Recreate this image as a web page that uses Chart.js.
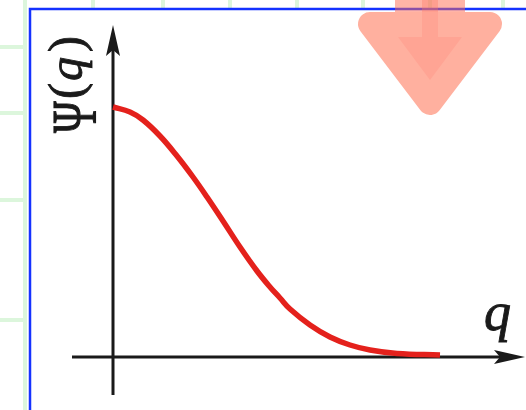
<!DOCTYPE html>
<html>
<head>
<meta charset="utf-8">
<title>Ψ(q)</title>
<script src="https://cdn.jsdelivr.net/npm/chart.js@4.4.0/dist/chart.umd.min.js"></script>
<style>
  html, body { margin: 0; padding: 0; background: #fff; }
  #wrap { width: 526px; height: 410px; }
</style>
</head>
<body>
<div id="wrap"><canvas id="chart-psi" width="526" height="410"></canvas></div>
<script>
// ---- DATA ----
const qVals   = [0, 0.17, 0.30, 0.47, 0.64, 0.80, 0.94, 1.10, 1.27, 1.44, 1.57, 1.67, 1.77, 1.97, 2.17, 2.37, 2.57, 2.84, 3.27];
const psiVals = [1.00, 0.98, 0.948, 0.884, 0.804, 0.72, 0.64, 0.544, 0.44, 0.344, 0.28, 0.236, 0.192, 0.128, 0.08, 0.048, 0.028, 0.014, 0.008];

const xRange = [-0.4, 4.1];
const yRange = [-0.16, 1.34];

const SERIF = '"Liberation Serif", "DejaVu Serif", serif';
const INK = '#1a1a1a';

// ---- PAGE BACKGROUND: faint grid + blue frame ----
const backdrop = {
  id: 'backdrop',
  beforeDraw(chart) {
    const ctx = chart.ctx;
    const W = chart.width, H = chart.height;
    ctx.save();
    ctx.fillStyle = '#ffffff';
    ctx.fillRect(0, 0, W, H);

    ctx.strokeStyle = '#dcf6dc';
    ctx.lineWidth = 4;
    ctx.beginPath();
    ctx.moveTo(25, 0); ctx.lineTo(25, H);
    [47, 113, 200, 320].forEach(y => { ctx.moveTo(0, y); ctx.lineTo(25, y); });
    [93, 163, 230, 297, 363, 430, 503].forEach(x => { ctx.moveTo(x, 0); ctx.lineTo(x, 8); });
    ctx.stroke();

    ctx.strokeStyle = '#1432ff';
    ctx.lineWidth = 2.5;
    ctx.beginPath();
    ctx.moveTo(30, H); ctx.lineTo(30, 9); ctx.lineTo(W, 9);
    ctx.stroke();
    ctx.restore();
  }
};

// text with a light outline so the glyphs read heavier
function inkText(ctx, t, x, y) {
  ctx.fillText(t, x, y);
  ctx.strokeText(t, x, y);
}

// ---- AXES WITH ARROWS + LABELS ----
const arrowAxes = {
  id: 'arrowAxes',
  beforeDatasetsDraw(chart) {
    const ctx = chart.ctx;
    const xs = chart.scales.x, ys = chart.scales.y;
    const x0 = xs.getPixelForValue(0), y0 = ys.getPixelForValue(0);
    const xL = xs.getPixelForValue(-0.41), xR = xs.getPixelForValue(4.12);
    const yB = ys.getPixelForValue(-0.152), yT = ys.getPixelForValue(1.328);

    ctx.save();
    ctx.strokeStyle = INK;
    ctx.fillStyle = INK;
    ctx.lineWidth = 3;
    ctx.beginPath();
    ctx.moveTo(xL, y0); ctx.lineTo(xR - 20, y0);
    ctx.moveTo(x0, yB); ctx.lineTo(x0, yT + 20);
    ctx.stroke();

    // arrow heads
    ctx.beginPath();
    ctx.moveTo(xR, y0);
    ctx.lineTo(xR - 31, y0 - 7);
    ctx.lineTo(xR - 25, y0);
    ctx.lineTo(xR - 31, y0 + 7);
    ctx.closePath();
    ctx.moveTo(x0, yT);
    ctx.lineTo(x0 - 7, yT + 31);
    ctx.lineTo(x0, yT + 25);
    ctx.lineTo(x0 + 7, yT + 31);
    ctx.closePath();
    ctx.fill();

    ctx.lineWidth = 0.9;
    ctx.textBaseline = 'alphabetic';

    // q label
    ctx.font = 'italic 54px ' + SERIF;
    inkText(ctx, 'q', 484, 330);

    // Ψ(q) label, reading upward
    ctx.translate(0, 133);
    ctx.rotate(-Math.PI / 2);
    // Ψ: narrow and tall
    ctx.save();
    ctx.translate(0, 96);
    ctx.scale(0.86, 1.26);
    ctx.font = '50px ' + SERIF;
    inkText(ctx, 'Ψ', 0, 0);
    ctx.restore();
    ctx.font = '48px ' + SERIF;
    inkText(ctx, '(', 34, 82);
    ctx.font = 'italic 48px ' + SERIF;
    inkText(ctx, 'q', 52, 82);
    ctx.font = '48px ' + SERIF;
    inkText(ctx, ')', 81, 82);
    ctx.restore();
  }
};

// ---- DOWN ARROW BADGE ----
const badge = {
  id: 'badge',
  afterDraw(chart) {
    const ctx = chart.ctx;
    ctx.save();
    // head
    ctx.fillStyle = '#ffb09f';
    ctx.strokeStyle = '#ffb09f';
    ctx.lineJoin = 'round';
    ctx.lineWidth = 24;
    ctx.beginPath();
    ctx.moveTo(370, 24); ctx.lineTo(490, 24); ctx.lineTo(430, 103);
    ctx.closePath();
    ctx.fill(); ctx.stroke();
    // stem over the frame
    ctx.fillStyle = 'rgba(255, 105, 80, 0.5)';
    ctx.fillRect(395, 0, 70, 12);
    // inner darker part
    ctx.fillStyle = '#ffa494';
    ctx.beginPath();
    ctx.moveTo(422, 12); ctx.lineTo(438, 12); ctx.lineTo(438, 37);
    ctx.lineTo(462, 37); ctx.lineTo(430, 80); ctx.lineTo(398, 37);
    ctx.lineTo(422, 37);
    ctx.closePath();
    ctx.fill();
    ctx.fillStyle = 'rgba(255, 120, 100, 0.35)';
    ctx.fillRect(422, 0, 16, 12);
    ctx.restore();
  }
};

const chartPsi = new Chart(document.getElementById('chart-psi'), {
  type: 'line',
  data: {
    datasets: [{
      label: 'Ψ(q)',
      data: qVals.map((q, i) => ({ x: q, y: psiVals[i] })),
      borderColor: '#e4211c',
      borderWidth: 5.5,
      borderCapStyle: 'butt',
      pointRadius: 0,
      tension: 0.4,
      fill: false,
      clip: false,
    }]
  },
  options: {
    responsive: false,
    animation: false,
    devicePixelRatio: 1,
    layout: { padding: { left: 73, right: 3, top: 22, bottom: 13 } },
    plugins: { legend: { display: false }, tooltip: { enabled: false } },
    scales: {
      x: { type: 'linear', display: false, min: xRange[0], max: xRange[1] },
      y: { type: 'linear', display: false, min: yRange[0], max: yRange[1] },
    }
  },
  plugins: [backdrop, arrowAxes, badge]
});
</script>
</body>
</html>
